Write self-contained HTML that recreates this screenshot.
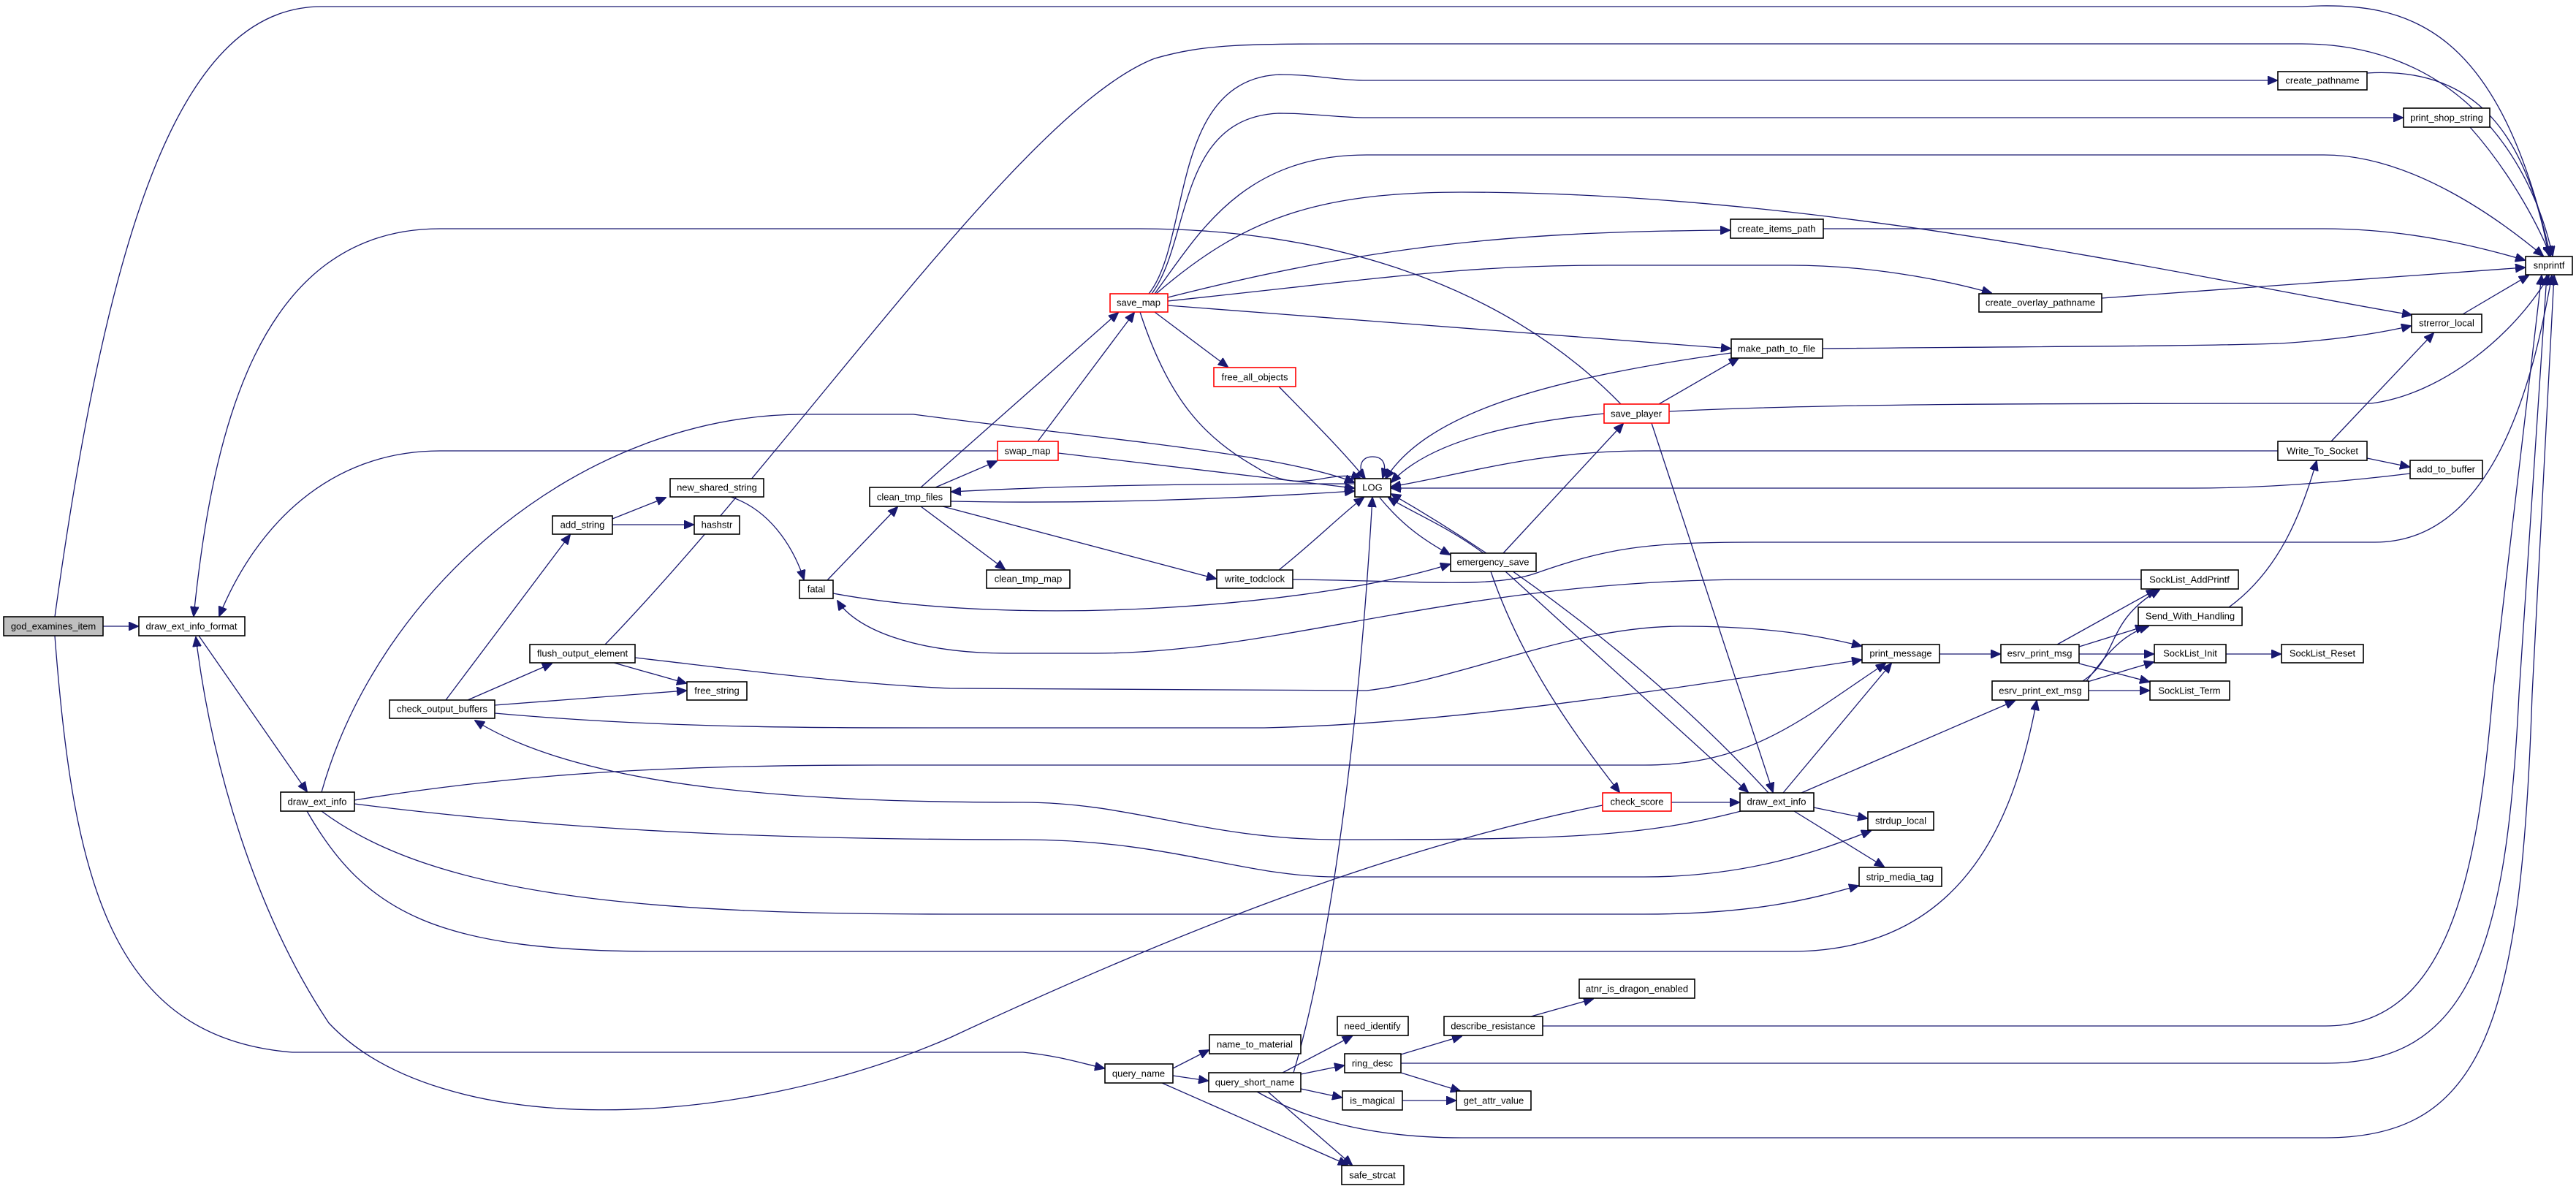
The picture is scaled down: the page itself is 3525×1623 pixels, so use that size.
<!DOCTYPE html>
<html><head><meta charset="utf-8"><style>
html,body{margin:0;padding:0;background:#fff;}
svg{display:block;}
text{font-family:"Liberation Sans",sans-serif;font-size:13px;fill:#000;text-anchor:middle;dominant-baseline:central;}
.e{fill:none;stroke:#191970;stroke-width:1.3;}
.n{fill:#fff;stroke:#000;stroke-width:1.6;}
.r{fill:#fff;stroke:#ff0000;stroke-width:1.6;}
.g{fill:#bfbfbf;stroke:#000;stroke-width:1.6;}
</style></head><body>
<svg width="3525" height="1623" viewBox="0 0 3525 1623" xmlns="http://www.w3.org/2000/svg">
<defs><marker id="a" markerUnits="userSpaceOnUse" markerWidth="14" markerHeight="12" refX="13" refY="6" orient="auto"><path d="M0,0 L14,6 L0,12 z" fill="#191970" stroke="#191970"/></marker></defs>
<g class="e" marker-end="url(#a)">
<path d="M141,857 L189,857"/>
<path d="M75,844 C 150,300 250,9 440,9 L 3150,9 C 3300,0 3420,40 3490,350"/>
<path d="M75,870 C 100,1200 150,1420 400,1440 L 1400,1440 C 1450,1445 1480,1455 1511,1462"/>
<path d="M272,870 L 420,1083"/>
<path d="M2193,1102 C 1900,1160 1600,1280 1300,1420 C 1000,1550 600,1560 450,1400 C 350,1250 290,1050 268,872"/>
<path d="M2218,553 C 2050,380 1800,313 1560,313 L 602,313 C 350,313 290,600 265,843"/>
<path d="M1365,617 L 602,617 C 450,617 350,720 300,843"/>
<path d="M440,1084 C 520,800 800,567 1100,567 L 1250,567 C 1500,600 1750,620 1853,660"/>
<path d="M828,882 C 1100,600 1400,150 1580,80 C 1650,60 1700,60 1870,60 L 3150,60 C 3350,60 3460,200 3493,350"/>
<path d="M1132,794 L 1228,694"/>
<path d="M1140,812 C 1400,860 1800,830 1984,772"/>
<path d="M2930,793 L 2400,793 C 2000,793 1750,894 1500,894 L 1380,894 C 1250,894 1170,860 1146,822"/>
<path d="M869,900 C 1000,915 1150,935 1300,942 L 1870,945 C 2000,930 2150,857 2300,857 C 2420,857 2490,870 2547,884"/>
<path d="M677,976 C 900,996 1100,996 1300,996 L 1730,996 C 2000,990 2300,940 2547,903"/>
<path d="M485,1095 C 700,1060 900,1047 1200,1047 L 2250,1047 C 2400,1047 2470,980 2580,908"/>
<path d="M2440,1085 L 2588,908"/>
<path d="M610,958 L 780,732"/>
<path d="M640,958 L 755,908"/>
<path d="M677,965 L 939,945"/>
<path d="M840,907 L 939,935"/>
<path d="M838,710 L 911,681"/>
<path d="M838,718 L 949,718"/>
<path d="M1000,680 C 1060,700 1090,760 1100,793"/>
<path d="M2390,1108 C 2250,1145 2150,1149 1830,1149 C 1650,1149 1550,1098 1400,1098 C 1100,1098 800,1080 650,986"/>
<path d="M485,1100 C 800,1140 1100,1149 1400,1149 C 1600,1149 1700,1200 1830,1200 L 2250,1200 C 2400,1200 2500,1160 2560,1137"/>
<path d="M440,1110 C 600,1230 900,1251 1300,1251 L 2250,1251 C 2400,1251 2480,1230 2543,1212"/>
<path d="M420,1110 C 500,1250 600,1302 900,1302 L 2450,1302 C 2700,1302 2760,1100 2787,959"/>
<path d="M2482,1105 L 2555,1120"/>
<path d="M2455,1110 L 2578,1186"/>
<path d="M2465,1085 L 2757,959"/>
<path d="M2420,1085 C 2250,900 2050,760 1904,676"/>
<path d="M2060,782 L 2392,1084"/>
<path d="M2260,579 L 2426,1084"/>
<path d="M2040,782 C 2080,900 2150,1000 2216,1084"/>
<path d="M2287,1098 L 2380,1098"/>
<path d="M2057,757 L 2221,580"/>
<path d="M2030,757 C 1980,720 1930,700 1900,681"/>
<path d="M1888,681 C 1920,720 1950,740 1984,759"/>
<path d="M1866,655 C 1855,630 1870,625 1878,625 C 1888,625 1900,630 1892,654"/>
<path d="M1854,662 C 1600,662 1450,665 1302,673"/>
<path d="M1301,686 C 1500,690 1700,682 1853,672"/>
<path d="M1280,667 L 1364,631"/>
<path d="M1260,667 L 1530,428"/>
<path d="M1260,693 L 1375,779"/>
<path d="M1290,693 L 1664,792"/>
<path d="M1750,780 C 1800,740 1840,700 1866,681"/>
<path d="M1769,793 C 1950,795 2040,805 2100,785 C 2200,750 2250,742 2400,742 L 3250,742 C 3420,742 3470,500 3492,377"/>
<path d="M1420,604 L 1552,428"/>
<path d="M1448,620 L 1853,668"/>
<path d="M1560,427 C 1600,550 1650,600 1720,640 C 1780,680 1820,640 1862,655"/>
<path d="M1580,427 L 1680,502"/>
<path d="M1750,529 C 1800,580 1840,620 1868,655"/>
<path d="M1598,418 L 2368,477"/>
<path d="M1598,412 C 1900,380 2000,363 2200,363 L 2450,363 C 2550,363 2650,380 2725,401"/>
<path d="M1598,407 C 1900,330 2100,317 2367,315"/>
<path d="M1582,402 C 1700,300 1800,263 2000,263 C 2500,263 3000,380 3300,431"/>
<path d="M1580,402 C 1640,320 1700,212 1870,212 L 3180,212 C 3300,212 3420,300 3480,350"/>
<path d="M1576,402 C 1630,330 1610,161 1750,155 C 1800,155 1830,161 1870,161 L 3288,161"/>
<path d="M1572,402 C 1630,330 1600,110 1750,102 C 1800,102 1830,110 1870,110 L 3116,110"/>
<path d="M2195,566 C 2050,580 1950,610 1904,660"/>
<path d="M2369,483 C 2100,520 1950,570 1896,655"/>
<path d="M2270,553 L 2379,490"/>
<path d="M2284,563 C 2500,552 2800,552 3245,552 C 3340,540 3440,460 3488,377"/>
<path d="M2494,477 C 2800,474 3000,474 3120,470 C 3200,465 3260,455 3299,446"/>
<path d="M3370,430 L 3460,377"/>
<path d="M2495,313 L 3180,313 C 3300,313 3400,340 3455,356"/>
<path d="M2876,408 L 3455,366"/>
<path d="M3239,100 C 3400,90 3460,200 3488,350"/>
<path d="M3380,174 C 3430,230 3470,300 3490,350"/>
<path d="M3117,617 L 2250,617 C 2100,617 2000,650 1904,666"/>
<path d="M3298,648 C 3200,660 3100,668 3000,668 L 1904,668"/>
<path d="M3239,627 L 3297,639"/>
<path d="M3190,604 L 3330,456"/>
<path d="M2654,895 L 2737,895"/>
<path d="M2815,882 L 2950,807"/>
<path d="M2845,885 L 2935,857"/>
<path d="M2845,895 L 2947,895"/>
<path d="M2845,908 L 2941,933"/>
<path d="M2850,932 C 2900,900 2880,850 2955,807"/>
<path d="M2855,932 C 2880,900 2900,870 2940,857"/>
<path d="M2850,935 L 2947,906"/>
<path d="M2858,945 L 2941,945"/>
<path d="M3046,895 L 3121,895"/>
<path d="M3050,831 C 3120,780 3150,700 3170,631"/>
<path d="M2111,1404 L 3182,1404 C 3350,1404 3390,1200 3411,950 L 3478,377"/>
<path d="M1917,1455 L 3182,1455 C 3380,1455 3430,1300 3447,950 L 3485,377"/>
<path d="M1720,1494 C 1800,1540 1900,1557 2000,1557 L 3182,1557 C 3400,1557 3450,1400 3465,950 L 3495,377"/>
<path d="M1770,1468 C 1820,1300 1860,1000 1878,681"/>
<path d="M1605,1462 L 1654,1437"/>
<path d="M1605,1472 L 1653,1479"/>
<path d="M1590,1482 L 1844,1594"/>
<path d="M1735,1494 L 1850,1594"/>
<path d="M1755,1468 L 1850,1418"/>
<path d="M1780,1470 L 1839,1458"/>
<path d="M1780,1490 L 1836,1502"/>
<path d="M1917,1443 L 2000,1418"/>
<path d="M1917,1468 L 1998,1493"/>
<path d="M1919,1506 L 1992,1506"/>
<path d="M2095,1391 L 2180,1367"/>
</g>
<g>
<rect class="g" x="5" y="844" width="136" height="26"/><text x="73" y="857">god_examines_item</text>
<rect class="n" x="190" y="844" width="145" height="26"/><text x="262" y="857">draw_ext_info_format</text>
<rect class="n" x="384" y="1084" width="101" height="26"/><text x="434" y="1097">draw_ext_info</text>
<rect class="n" x="533" y="958" width="144" height="25"/><text x="605" y="970">check_output_buffers</text>
<rect class="n" x="756" y="706" width="82" height="25"/><text x="797" y="718">add_string</text>
<rect class="n" x="917" y="655" width="128" height="25"/><text x="981" y="667">new_shared_string</text>
<rect class="n" x="950" y="706" width="62" height="25"/><text x="981" y="718">hashstr</text>
<rect class="n" x="1094" y="794" width="46" height="25"/><text x="1117" y="806">fatal</text>
<rect class="n" x="725" y="882" width="144" height="25"/><text x="797" y="894">flush_output_element</text>
<rect class="n" x="940" y="933" width="82" height="25"/><text x="981" y="945">free_string</text>
<rect class="n" x="1190" y="667" width="111" height="26"/><text x="1245" y="680">clean_tmp_files</text>
<rect class="r" x="1365" y="604" width="83" height="26"/><text x="1406" y="617">swap_map</text>
<rect class="r" x="1519" y="402" width="79" height="25"/><text x="1558" y="414">save_map</text>
<rect class="r" x="1661" y="503" width="112" height="26"/><text x="1717" y="516">free_all_objects</text>
<rect class="n" x="1854" y="655" width="49" height="25"/><text x="1878" y="667">LOG</text>
<rect class="r" x="2195" y="553" width="89" height="26"/><text x="2239" y="566">save_player</text>
<rect class="n" x="1985" y="757" width="117" height="25"/><text x="2043" y="769">emergency_save</text>
<rect class="n" x="1350" y="780" width="114" height="25"/><text x="1407" y="792">clean_tmp_map</text>
<rect class="n" x="1665" y="780" width="104" height="25"/><text x="1717" y="792">write_todclock</text>
<rect class="n" x="3117" y="98" width="122" height="25"/><text x="3178" y="110">create_pathname</text>
<rect class="n" x="3289" y="148" width="118" height="26"/><text x="3348" y="161">print_shop_string</text>
<rect class="n" x="2368" y="300" width="127" height="26"/><text x="2431" y="313">create_items_path</text>
<rect class="n" x="3456" y="351" width="64" height="25"/><text x="3488" y="363">snprintf</text>
<rect class="n" x="2708" y="402" width="168" height="25"/><text x="2792" y="414">create_overlay_pathname</text>
<rect class="n" x="3300" y="430" width="96" height="25"/><text x="3348" y="442">strerror_local</text>
<rect class="n" x="2369" y="464" width="125" height="26"/><text x="2431" y="477">make_path_to_file</text>
<rect class="n" x="3117" y="604" width="122" height="26"/><text x="3178" y="617">Write_To_Socket</text>
<rect class="n" x="3298" y="630" width="99" height="25"/><text x="3347" y="642">add_to_buffer</text>
<rect class="n" x="2930" y="780" width="133" height="26"/><text x="2996" y="793">SockList_AddPrintf</text>
<rect class="n" x="2926" y="831" width="142" height="25"/><text x="2997" y="843">Send_With_Handling</text>
<rect class="n" x="2548" y="882" width="106" height="25"/><text x="2601" y="894">print_message</text>
<rect class="n" x="2738" y="882" width="107" height="25"/><text x="2791" y="894">esrv_print_msg</text>
<rect class="n" x="2948" y="882" width="98" height="25"/><text x="2997" y="894">SockList_Init</text>
<rect class="n" x="3122" y="882" width="112" height="25"/><text x="3178" y="894">SockList_Reset</text>
<rect class="n" x="2726" y="932" width="132" height="26"/><text x="2792" y="945">esrv_print_ext_msg</text>
<rect class="n" x="2942" y="932" width="109" height="26"/><text x="2996" y="945">SockList_Term</text>
<rect class="r" x="2193" y="1085" width="94" height="25"/><text x="2240" y="1097">check_score</text>
<rect class="n" x="2381" y="1085" width="101" height="25"/><text x="2431" y="1097">draw_ext_info</text>
<rect class="n" x="2556" y="1111" width="90" height="25"/><text x="2601" y="1123">strdup_local</text>
<rect class="n" x="2544" y="1187" width="113" height="26"/><text x="2600" y="1200">strip_media_tag</text>
<rect class="n" x="2161" y="1340" width="158" height="26"/><text x="2240" y="1353">atnr_is_dragon_enabled</text>
<rect class="n" x="1830" y="1391" width="97" height="26"/><text x="1878" y="1404">need_identify</text>
<rect class="n" x="1976" y="1391" width="135" height="26"/><text x="2043" y="1404">describe_resistance</text>
<rect class="n" x="1655" y="1416" width="125" height="26"/><text x="1717" y="1429">name_to_material</text>
<rect class="n" x="1840" y="1442" width="77" height="26"/><text x="1878" y="1455">ring_desc</text>
<rect class="n" x="1512" y="1456" width="93" height="26"/><text x="1558" y="1469">query_name</text>
<rect class="n" x="1654" y="1468" width="126" height="26"/><text x="1717" y="1481">query_short_name</text>
<rect class="n" x="1837" y="1493" width="82" height="26"/><text x="1878" y="1506">is_magical</text>
<rect class="n" x="1993" y="1493" width="102" height="26"/><text x="2044" y="1506">get_attr_value</text>
<rect class="n" x="1836" y="1595" width="85" height="26"/><text x="1878" y="1608">safe_strcat</text>
</g>
</svg>
</body></html>
